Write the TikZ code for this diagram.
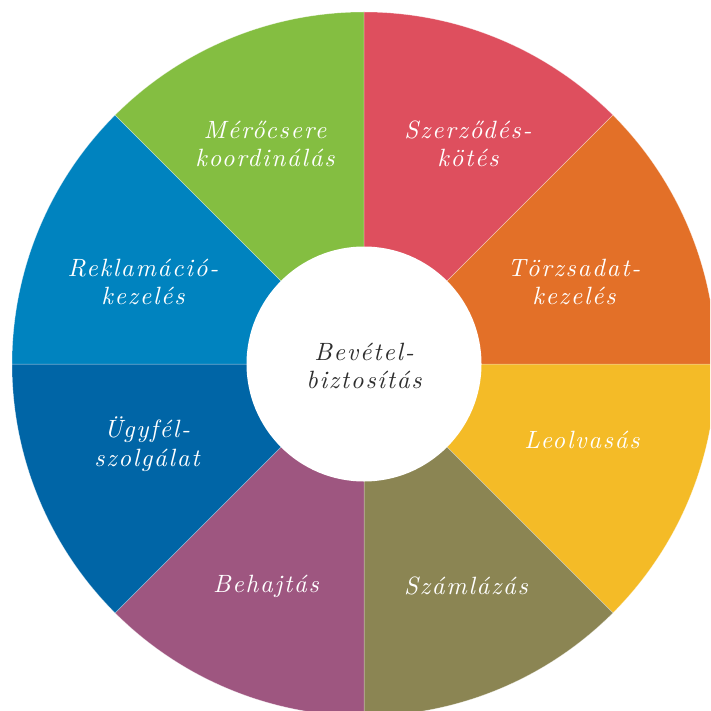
\documentclass[tikz,border=0pt]{standalone}
\usepackage{fontspec}
\newfontfamily\labfam{lmroman10}[Extension=.otf,UprightFont=*-regular,ItalicFont=*-italic,LetterSpace=7]
\definecolor{cyellow}{HTML}{F4BB27}
\definecolor{colive}{HTML}{8B8553}
\definecolor{cpurple}{HTML}{9E5680}
\definecolor{cdblue}{HTML}{0065A6}
\definecolor{cblue}{HTML}{0083BF}
\definecolor{cgreen}{HTML}{84BE41}
\definecolor{cred}{HTML}{DE4F5E}
\definecolor{corange}{HTML}{E37028}
\definecolor{ctext}{HTML}{2E2E2E}
\newcommand\labfont{\labfam\itshape\fontsize{25}{28.5}\selectfont}
\begin{document}
\begin{tikzpicture}[x=1pt,y=-1pt,
  sector/.style={fill=#1,draw=white,draw opacity=0.45,line width=0.5pt},
  lab/.style={text=white,align=center,inner sep=0pt,font=\labfont},
  clab/.style={text=ctext,align=center,inner sep=0pt,font=\labfont}]
\useasboundingbox (0,0) rectangle (710,711);
\clip (0,0) rectangle (710,711);
\coordinate (c) at (364,364);
\foreach \a/\col in {0/cyellow,45/colive,90/cpurple,135/cdblue,180/cblue,225/cgreen,270/cred,315/corange}{
  \path[sector=\col] (c) -- ++(\a:352) arc[start angle=\a,end angle=\a+45,radius=352] -- cycle;
}
\node[circle,fill=white,minimum size=235pt,inner sep=0pt] (hub) at (c) {};
\node[clab] (center) at (364,366) {Bevétel-\\biztosítás};
\node[lab] (meres) at (265,144) {Mérőcsere\\koordinálás};
\node[lab] (szerz) at (468,144) {Szerződés-\\kötés};
\node[lab] (torzs) at (574,282) {Törzsadat-\\kezelés};
\node[lab] (rekl) at (143,282) {Reklamáció-\\kezelés};
\node[lab] (ugyf) at (147,444) {Ügyfél-\\szolgálat};
\node[lab] (leol) at (582,440) {Leolvasás};
\node[lab] (behaj) at (266,586) {Behajtás};
\node[lab] (szaml) at (466,586) {Számlázás};
\end{tikzpicture}
\end{document}
